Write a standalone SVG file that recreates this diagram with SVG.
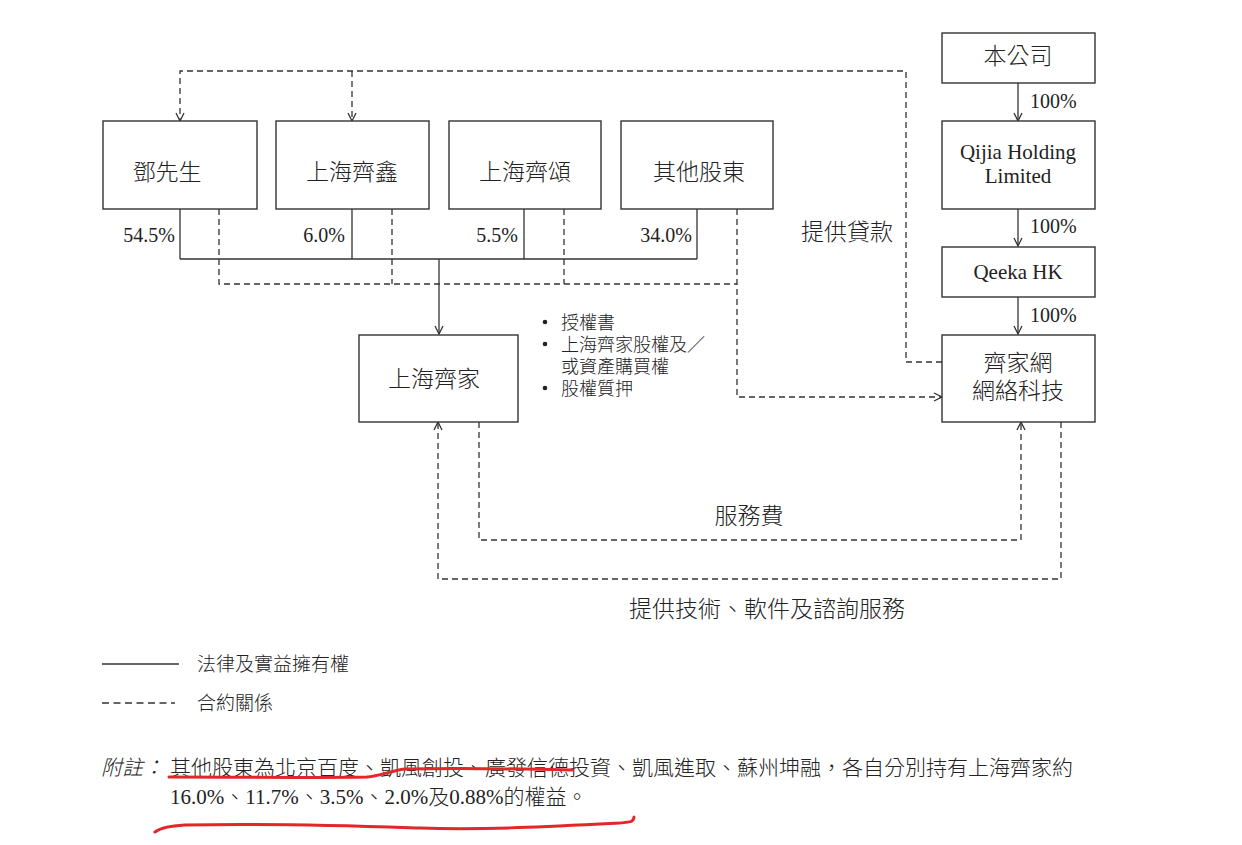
<svg xmlns="http://www.w3.org/2000/svg" width="1242" height="845" viewBox="0 0 1242 845">
<defs>
<marker id="arr" viewBox="0 0 10 10" markerUnits="userSpaceOnUse" markerWidth="10" markerHeight="10" refX="9" refY="5" orient="auto">
<path d="M1,1 L9,5 L1,9" fill="none" stroke="#333" stroke-width="1.3"/>
</marker>
</defs>
<style>
.box{fill:#fff;stroke:#333;stroke-width:1.4}
.ln{fill:none;stroke:#333;stroke-width:1.3}
.dl{fill:none;stroke:#333;stroke-width:1.3;stroke-dasharray:6 4}
.t{font-family:"Liberation Serif","Noto Sans CJK TC",serif;fill:#222;font-weight:300}
.c22{font-size:23px}
.p{font-size:20px}
.s{font-size:18px}
.n{font-size:21px}
.red{fill:none;stroke:#e3262a;stroke-width:3;stroke-linecap:round;stroke-linejoin:round}
</style>
<rect width="1242" height="845" fill="#fff"/>

<g id="connectors">
<path class="ln" d="M180,209 V259 M352,209 V259 M524,209 V259 M697,209 V259 M180,259 H697"/>
<path class="ln" d="M439,259 V334" marker-end="url(#arr)"/>
<path class="ln" d="M1018,83 V121" marker-end="url(#arr)"/>
<path class="ln" d="M1018,209 V246" marker-end="url(#arr)"/>
<path class="ln" d="M1018,297 V334" marker-end="url(#arr)"/>
<path class="dl" d="M942,362 H906 V71 H180 V121" marker-end="url(#arr)"/>
<path class="dl" d="M352,71 V121" marker-end="url(#arr)"/>
<path class="dl" d="M219,209 V284 H737 M392,209 V284 M564,209 V284"/>
<path class="dl" d="M737,209 V397 H942" marker-end="url(#arr)"/>
<path class="dl" d="M479,422 V540 H1021 V422" marker-end="url(#arr)"/>
<path class="dl" d="M1061,422 V579 H438 V422" marker-end="url(#arr)"/>
</g>

<g id="n-deng">
<rect class="box" x="103" y="121" width="154" height="88"/>
<text class="t c22" x="167" y="180" text-anchor="middle">鄧先生</text>
</g>
<g id="n-qixin">
<rect class="box" x="276" y="121" width="153" height="88"/>
<text class="t c22" x="352" y="180" text-anchor="middle">上海齊鑫</text>
</g>
<g id="n-qisong">
<rect class="box" x="449" y="121" width="152" height="88"/>
<text class="t c22" x="525" y="180" text-anchor="middle">上海齊頌</text>
</g>
<g id="n-others">
<rect class="box" x="621" y="121" width="152" height="88"/>
<text class="t c22" x="699" y="180" text-anchor="middle">其他股東</text>
</g>

<g id="pct-labels">
<text class="t p" x="175" y="242" text-anchor="end">54.5%</text>
<text class="t p" x="345" y="242" text-anchor="end">6.0%</text>
<text class="t p" x="518" y="242" text-anchor="end">5.5%</text>
<text class="t p" x="692" y="242" text-anchor="end">34.0%</text>
<text class="t p" x="1030" y="108">100%</text>
<text class="t p" x="1030" y="233">100%</text>
<text class="t p" x="1030" y="322">100%</text>
</g>

<g id="n-company">
<rect class="box" x="942" y="33" width="153" height="50"/>
<text class="t c22" x="1018" y="64" text-anchor="middle">本公司</text>
</g>
<g id="n-qijia-holding">
<rect class="box" x="942" y="121" width="153" height="88"/>
<text class="t" font-size="21" x="1018" y="159" text-anchor="middle">Qijia Holding</text>
<text class="t" font-size="21" x="1018" y="183" text-anchor="middle">Limited</text>
</g>
<g id="n-qeeka-hk">
<rect class="box" x="942" y="247" width="153" height="50"/>
<text class="t" font-size="21" x="1018" y="279" text-anchor="middle">Qeeka HK</text>
</g>
<g id="n-qijiawang">
<rect class="box" x="942" y="335" width="153" height="87"/>
<text class="t c22" x="1018" y="371" text-anchor="middle">齊家網</text>
<text class="t c22" x="1018" y="399" text-anchor="middle">網絡科技</text>
</g>
<g id="n-shanghai-qijia">
<rect class="box" x="359" y="335" width="159" height="87"/>
<text class="t c22" x="434" y="387" text-anchor="middle">上海齊家</text>
</g>

<g id="labels">
<text class="t c22" x="847" y="240" text-anchor="middle">提供貸款</text>
<circle cx="545" cy="322" r="2.3" fill="#222"/>
<circle cx="545" cy="344" r="2.3" fill="#222"/>
<circle cx="545" cy="388" r="2.3" fill="#222"/>
<text class="t s" x="561" y="329">授權書</text>
<text class="t s" x="561" y="351">上海齊家股權及／</text>
<text class="t s" x="561" y="373">或資產購買權</text>
<text class="t s" x="561" y="395">股權質押</text>
<text class="t c22" x="749" y="524" text-anchor="middle">服務費</text>
<text class="t c22" x="767" y="617" text-anchor="middle">提供技術、軟件及諮詢服務</text>
</g>

<g id="legend">
<path class="ln" d="M102,664 H179"/>
<text class="t" font-size="19" x="197" y="671">法律及實益擁有權</text>
<path class="ln" d="M102,703 H175" stroke-dasharray="7 4.5"/>
<text class="t" font-size="19" x="197" y="710">合約關係</text>
</g>

<g id="note">
<text class="t n" x="101" y="775" font-style="italic">附註：</text>
<text class="t n" x="170" y="775">其他股東為北京百度、凱風創投、廣發信德投資、凱風進取、蘇州坤融，各自分別持有上海齊家約</text>
<text class="t n" x="170" y="804">16.0%、11.7%、3.5%、2.0%及0.88%的權益。</text>
</g>

<g id="annotations">
<path class="red" d="M169,777 C250,777 320,778 367,777 C380,776 390,771 405,769 C470,768 530,769 573,770"/>
<path class="red" d="M155,832 C160,828 168,826 185,825 C280,823 360,826 420,828 C480,830 540,827 600,824 C620,823 630,823 632,821 C633,820 634,819 634,817"/>
</g>
</svg>
